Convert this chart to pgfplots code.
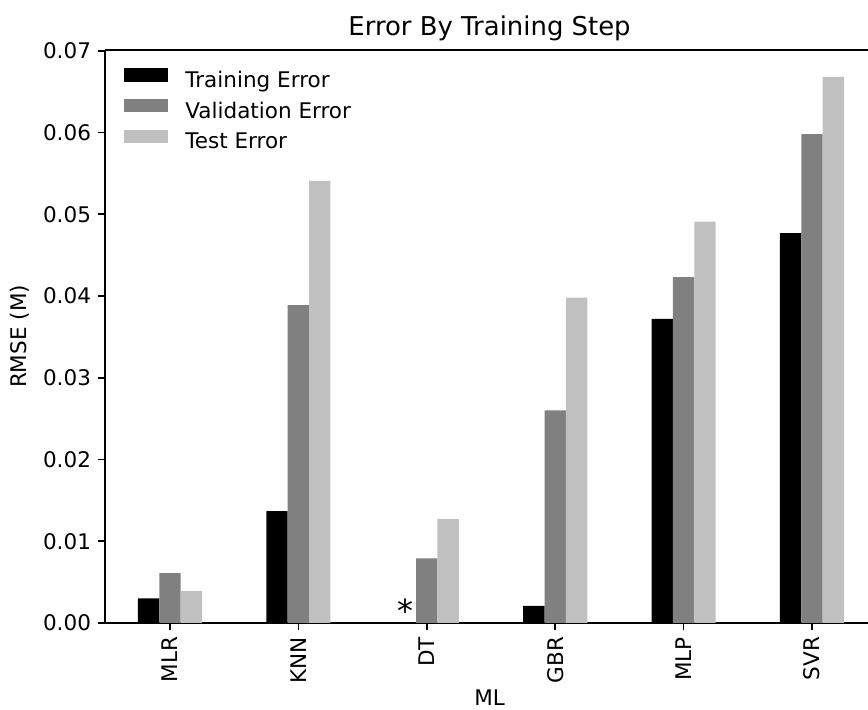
\documentclass[border=0pt]{standalone}
\usepackage{fontspec}
\setmainfont{DejaVu Sans}
\setsansfont{DejaVu Sans}
\usepackage{pgfplots}
\pgfplotsset{compat=1.18}
\definecolor{valgray}{HTML}{808080}
\definecolor{testgray}{HTML}{C0C0C0}
\begin{document}
\begin{tikzpicture}
\begin{axis}[
  name=ax,
  at={(0,0)}, anchor=south west,
  scale only axis,
  width=381.5bp, height=286.5bp,
  xmin=-0.506, xmax=5.436,
  ymin=0, ymax=0.0701,
  axis x line=box, axis y line=left,
  axis line style={-, line width=0.8bp},
  every tick/.style={line width=0.8bp, black},
  tick align=outside, major tick length=3.5bp,
  xtick pos=bottom, ytick pos=left,
  xtick={0,1,2,3,4,5},
  xticklabels={MLR,KNN,DT,GBR,MLP,SVR},
  x tick label style={rotate=90, anchor=east, font=\fontsize{10.8}{12}\selectfont},
  ytick={0,0.01,0.02,0.03,0.04,0.05,0.06,0.07},
  scaled y ticks=false,
  y tick label style={/pgf/number format/fixed, /pgf/number format/fixed zerofill, /pgf/number format/precision=2, font=\fontsize{10.8}{12}\selectfont},
  /pgf/number format/assume math mode=true,
  title={Error By Training Step},
  title style={at={(axis description cs:0.504,1)}, anchor=base, yshift=1.5bp, font=\fontsize{13}{15}\selectfont},
  xlabel={ML},
  xlabel style={at={(axis description cs:0.504,-0.144)}, anchor=base, font=\fontsize{10.8}{12}\selectfont},
  ylabel={RMSE (M)},
  ylabel style={at={(axis description cs:-0.1114,0.5)}, anchor=center, font=\fontsize{10.8}{12}\selectfont},
  ybar, bar width=0.1667, bar shift=0pt,
  legend style={draw=none, fill=none, at={(axis description cs:0,1)}, anchor=north west,
    xshift=9.5bp, yshift=-9bp, inner sep=0pt, row sep=3bp,
    nodes={inner sep=0pt, text height=8bp, text depth=2.6bp, font=\fontsize{10.8}{12}\selectfont},
    /tikz/every odd column/.append style={column sep=8.5bp}},
  legend cell align=left,
  legend image code/.code={\fill[#1] (0bp,0.4bp) rectangle (22bp,7bp);},
]
\addplot[fill=black, draw=none] coordinates {(-0.1667,0.0030) (0.8333,0.0137) (2.8333,0.0021) (3.8333,0.0372) (4.8333,0.0477)};
\addlegendentry{Training Error}
\addplot[fill=valgray, draw=none] coordinates {(0,0.0061) (1,0.0389) (2,0.0079) (3,0.0260) (4,0.0423) (5,0.0598)};
\addlegendentry{Validation Error}
\addplot[fill=testgray, draw=none] coordinates {(0.1667,0.0039) (1.1667,0.0541) (2.1667,0.0127) (3.1667,0.0398) (4.1667,0.0491) (5.1667,0.0668)};
\addlegendentry{Test Error}
\node[anchor=base, inner sep=0pt, font=\fontsize{16}{18}\selectfont] at (axis cs:1.8333,0.0001) {*};
\end{axis}
\pgfresetboundingbox
\path ([xshift=-52.5bp, yshift=-43.5bp] ax.south west) rectangle ([yshift=25bp] ax.north east);
\end{tikzpicture}
\end{document}
